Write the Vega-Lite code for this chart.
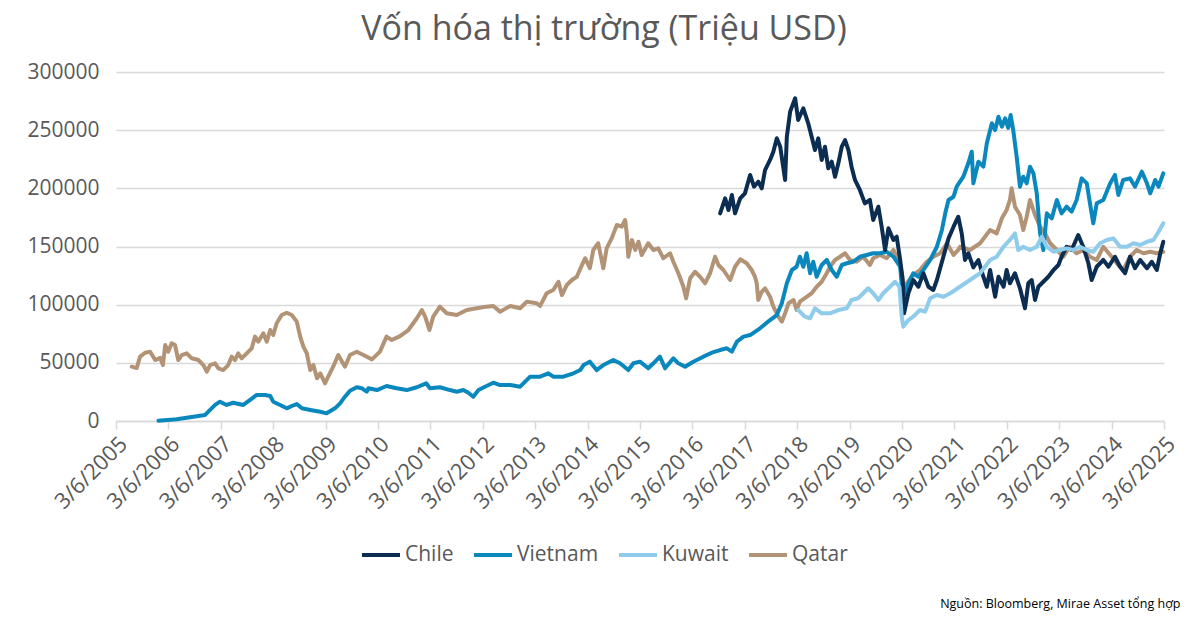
{
  "$schema": "https://vega.github.io/schema/vega-lite/v6.json",
  "width": 1048,
  "height": 349,
  "autosize": {"type": "none"},
  "padding": {"left": 116, "top": 72, "right": 36, "bottom": 199},
  "background": "white",
  "title": {
    "text": "Vốn hóa thị trường (Triệu USD)",
    "font": "Open Sans",
    "fontSize": 34,
    "fontWeight": "normal",
    "color": "#595959",
    "anchor": "middle",
    "dx": -36,
    "offset": 14
  },
  "config": {
    "view": {"stroke": null},
    "font": "Open Sans"
  },
  "data": {
    "values": [
      {"date":"2005-06-24","series":"Qatar","value":46700},
      {"date":"2005-07-28","series":"Qatar","value":45500},
      {"date":"2005-08-21","series":"Qatar","value":55300},
      {"date":"2005-09-25","series":"Qatar","value":58700},
      {"date":"2005-10-30","series":"Qatar","value":59600},
      {"date":"2005-12-04","series":"Qatar","value":52400},
      {"date":"2006-01-08","series":"Qatar","value":54200},
      {"date":"2006-01-27","series":"Qatar","value":48100},
      {"date":"2006-02-12","series":"Qatar","value":65300},
      {"date":"2006-03-05","series":"Qatar","value":59600},
      {"date":"2006-03-29","series":"Qatar","value":66800},
      {"date":"2006-04-21","series":"Qatar","value":65300},
      {"date":"2006-05-14","series":"Qatar","value":52400},
      {"date":"2006-06-07","series":"Qatar","value":56700},
      {"date":"2006-07-12","series":"Qatar","value":58200},
      {"date":"2006-08-16","series":"Qatar","value":53900},
      {"date":"2006-10-01","series":"Qatar","value":52400},
      {"date":"2006-11-05","series":"Qatar","value":48100},
      {"date":"2006-11-29","series":"Qatar","value":42400},
      {"date":"2006-12-22","series":"Qatar","value":48100},
      {"date":"2007-01-26","series":"Qatar","value":49600},
      {"date":"2007-02-18","series":"Qatar","value":45300},
      {"date":"2007-03-23","series":"Qatar","value":43800},
      {"date":"2007-04-27","series":"Qatar","value":48100},
      {"date":"2007-05-21","series":"Qatar","value":55300},
      {"date":"2007-06-13","series":"Qatar","value":52400},
      {"date":"2007-07-06","series":"Qatar","value":58200},
      {"date":"2007-07-30","series":"Qatar","value":53900},
      {"date":"2007-09-03","series":"Qatar","value":58200},
      {"date":"2007-10-08","series":"Qatar","value":62500},
      {"date":"2007-10-31","series":"Qatar","value":72500},
      {"date":"2007-11-23","series":"Qatar","value":68200},
      {"date":"2007-12-28","series":"Qatar","value":75400},
      {"date":"2008-01-21","series":"Qatar","value":68200},
      {"date":"2008-02-14","series":"Qatar","value":78200},
      {"date":"2008-03-06","series":"Qatar","value":73900},
      {"date":"2008-03-30","series":"Qatar","value":84000},
      {"date":"2008-05-04","series":"Qatar","value":91100},
      {"date":"2008-06-08","series":"Qatar","value":93100},
      {"date":"2008-07-13","series":"Qatar","value":91100},
      {"date":"2008-08-17","series":"Qatar","value":85400},
      {"date":"2008-09-10","series":"Qatar","value":72500},
      {"date":"2008-10-02","series":"Qatar","value":63900},
      {"date":"2008-10-26","series":"Qatar","value":58200},
      {"date":"2008-11-19","series":"Qatar","value":43800},
      {"date":"2008-12-11","series":"Qatar","value":48100},
      {"date":"2009-01-05","series":"Qatar","value":36700},
      {"date":"2009-01-28","series":"Qatar","value":41000},
      {"date":"2009-03-02","series":"Qatar","value":32400},
      {"date":"2009-03-24","series":"Qatar","value":38100},
      {"date":"2009-04-28","series":"Qatar","value":46700},
      {"date":"2009-06-02","series":"Qatar","value":56700},
      {"date":"2009-07-19","series":"Qatar","value":46700},
      {"date":"2009-08-23","series":"Qatar","value":56700},
      {"date":"2009-10-09","series":"Qatar","value":59600},
      {"date":"2009-11-25","series":"Qatar","value":56700},
      {"date":"2010-01-23","series":"Qatar","value":53000},
      {"date":"2010-03-20","series":"Qatar","value":59600},
      {"date":"2010-05-05","series":"Qatar","value":72500},
      {"date":"2010-06-10","series":"Qatar","value":69600},
      {"date":"2010-08-07","series":"Qatar","value":73000},
      {"date":"2010-10-04","series":"Qatar","value":78200},
      {"date":"2010-12-02","series":"Qatar","value":88300},
      {"date":"2011-01-06","series":"Qatar","value":95400},
      {"date":"2011-01-29","series":"Qatar","value":89700},
      {"date":"2011-02-28","series":"Qatar","value":78200},
      {"date":"2011-03-26","series":"Qatar","value":89700},
      {"date":"2011-05-12","series":"Qatar","value":98300},
      {"date":"2011-06-28","series":"Qatar","value":92600},
      {"date":"2011-09-06","series":"Qatar","value":91100},
      {"date":"2011-11-15","series":"Qatar","value":95400},
      {"date":"2012-01-24","series":"Qatar","value":96900},
      {"date":"2012-04-02","series":"Qatar","value":98300},
      {"date":"2012-05-18","series":"Qatar","value":98900},
      {"date":"2012-07-04","series":"Qatar","value":94000},
      {"date":"2012-09-13","series":"Qatar","value":98900},
      {"date":"2012-11-21","series":"Qatar","value":96900},
      {"date":"2013-01-07","series":"Qatar","value":102600},
      {"date":"2013-03-16","series":"Qatar","value":101200},
      {"date":"2013-04-09","series":"Qatar","value":98900},
      {"date":"2013-05-25","series":"Qatar","value":109800},
      {"date":"2013-07-10","series":"Qatar","value":112600},
      {"date":"2013-08-15","series":"Qatar","value":119700},
      {"date":"2013-09-08","series":"Qatar","value":108300},
      {"date":"2013-10-12","series":"Qatar","value":116900},
      {"date":"2013-11-17","series":"Qatar","value":121200},
      {"date":"2013-12-21","series":"Qatar","value":124000},
      {"date":"2014-01-26","series":"Qatar","value":134100},
      {"date":"2014-02-18","series":"Qatar","value":139900},
      {"date":"2014-03-22","series":"Qatar","value":131300},
      {"date":"2014-04-15","series":"Qatar","value":147000},
      {"date":"2014-05-19","series":"Qatar","value":152800},
      {"date":"2014-06-24","series":"Qatar","value":131300},
      {"date":"2014-07-17","series":"Qatar","value":148400},
      {"date":"2014-08-21","series":"Qatar","value":157000},
      {"date":"2014-09-26","series":"Qatar","value":168500},
      {"date":"2014-10-30","series":"Qatar","value":167000},
      {"date":"2014-11-23","series":"Qatar","value":172800},
      {"date":"2014-12-04","series":"Qatar","value":161300},
      {"date":"2014-12-15","series":"Qatar","value":141200},
      {"date":"2015-01-09","series":"Qatar","value":155600},
      {"date":"2015-02-01","series":"Qatar","value":147000},
      {"date":"2015-02-24","series":"Qatar","value":154100},
      {"date":"2015-03-18","series":"Qatar","value":142700},
      {"date":"2015-05-03","series":"Qatar","value":152800},
      {"date":"2015-06-08","series":"Qatar","value":147000},
      {"date":"2015-07-12","series":"Qatar","value":148400},
      {"date":"2015-08-16","series":"Qatar","value":139900},
      {"date":"2015-10-02","series":"Qatar","value":144200},
      {"date":"2015-10-25","series":"Qatar","value":136900},
      {"date":"2015-11-29","series":"Qatar","value":127000},
      {"date":"2016-01-03","series":"Qatar","value":115400},
      {"date":"2016-01-22","series":"Qatar","value":105500},
      {"date":"2016-02-19","series":"Qatar","value":122700},
      {"date":"2016-03-24","series":"Qatar","value":128300},
      {"date":"2016-04-28","series":"Qatar","value":124000},
      {"date":"2016-06-02","series":"Qatar","value":118400},
      {"date":"2016-07-07","series":"Qatar","value":127000},
      {"date":"2016-08-11","series":"Qatar","value":141200},
      {"date":"2016-09-03","series":"Qatar","value":134100},
      {"date":"2016-10-08","series":"Qatar","value":129800},
      {"date":"2016-11-24","series":"Qatar","value":121200},
      {"date":"2016-12-28","series":"Qatar","value":132600},
      {"date":"2017-02-02","series":"Qatar","value":139000},
      {"date":"2017-03-19","series":"Qatar","value":135600},
      {"date":"2017-04-23","series":"Qatar","value":129800},
      {"date":"2017-05-16","series":"Qatar","value":124000},
      {"date":"2017-05-28","series":"Qatar","value":118400},
      {"date":"2017-06-08","series":"Qatar","value":104000},
      {"date":"2017-07-02","series":"Qatar","value":111100},
      {"date":"2017-07-25","series":"Qatar","value":114100},
      {"date":"2017-08-29","series":"Qatar","value":106800},
      {"date":"2017-09-21","series":"Qatar","value":98300},
      {"date":"2017-10-26","series":"Qatar","value":89700},
      {"date":"2017-11-19","series":"Qatar","value":85400},
      {"date":"2017-12-12","series":"Qatar","value":92600},
      {"date":"2018-01-05","series":"Qatar","value":101200},
      {"date":"2018-02-09","series":"Qatar","value":104000},
      {"date":"2018-03-02","series":"Qatar","value":95400},
      {"date":"2018-03-25","series":"Qatar","value":102600},
      {"date":"2018-05-11","series":"Qatar","value":106800},
      {"date":"2018-06-15","series":"Qatar","value":109800},
      {"date":"2018-07-20","series":"Qatar","value":115400},
      {"date":"2018-08-24","series":"Qatar","value":119700},
      {"date":"2018-09-28","series":"Qatar","value":127000},
      {"date":"2018-10-21","series":"Qatar","value":132600},
      {"date":"2018-11-25","series":"Qatar","value":138400},
      {"date":"2018-12-30","series":"Qatar","value":141200},
      {"date":"2019-02-03","series":"Qatar","value":144200},
      {"date":"2019-03-09","series":"Qatar","value":138400},
      {"date":"2019-04-25","series":"Qatar","value":136900},
      {"date":"2019-06-10","series":"Qatar","value":141200},
      {"date":"2019-07-26","series":"Qatar","value":134100},
      {"date":"2019-08-18","series":"Qatar","value":139900},
      {"date":"2019-10-05","series":"Qatar","value":142700},
      {"date":"2019-11-20","series":"Qatar","value":139900},
      {"date":"2020-01-06","series":"Qatar","value":147000},
      {"date":"2020-02-10","series":"Qatar","value":138400},
      {"date":"2020-03-04","series":"Qatar","value":127000},
      {"date":"2020-03-15","series":"Qatar","value":114100},
      {"date":"2020-04-08","series":"Qatar","value":118400},
      {"date":"2020-05-23","series":"Qatar","value":125500},
      {"date":"2020-07-09","series":"Qatar","value":129800},
      {"date":"2020-08-25","series":"Qatar","value":136900},
      {"date":"2020-10-10","series":"Qatar","value":141200},
      {"date":"2020-11-27","series":"Qatar","value":144200},
      {"date":"2021-01-13","series":"Qatar","value":152800},
      {"date":"2021-02-28","series":"Qatar","value":142700},
      {"date":"2021-04-02","series":"Qatar","value":147000},
      {"date":"2021-04-14","series":"Qatar","value":149800},
      {"date":"2021-06-23","series":"Qatar","value":147000},
      {"date":"2021-09-01","series":"Qatar","value":152800},
      {"date":"2021-11-10","series":"Qatar","value":164200},
      {"date":"2021-12-26","series":"Qatar","value":161300},
      {"date":"2022-01-31","series":"Qatar","value":174200},
      {"date":"2022-03-05","series":"Qatar","value":181400},
      {"date":"2022-03-28","series":"Qatar","value":190000},
      {"date":"2022-04-09","series":"Qatar","value":200000},
      {"date":"2022-05-02","series":"Qatar","value":184200},
      {"date":"2022-06-06","series":"Qatar","value":177100},
      {"date":"2022-06-29","series":"Qatar","value":164200},
      {"date":"2022-07-23","series":"Qatar","value":175600},
      {"date":"2022-08-15","series":"Qatar","value":190000},
      {"date":"2022-09-19","series":"Qatar","value":177100},
      {"date":"2022-10-24","series":"Qatar","value":167000},
      {"date":"2022-11-28","series":"Qatar","value":161300},
      {"date":"2023-01-02","series":"Qatar","value":152800},
      {"date":"2023-02-18","series":"Qatar","value":147000},
      {"date":"2023-04-04","series":"Qatar","value":141200},
      {"date":"2023-05-20","series":"Qatar","value":149800},
      {"date":"2023-07-06","series":"Qatar","value":144200},
      {"date":"2023-08-21","series":"Qatar","value":147000},
      {"date":"2023-10-07","series":"Qatar","value":141200},
      {"date":"2023-11-23","series":"Qatar","value":138400},
      {"date":"2024-01-08","series":"Qatar","value":149800},
      {"date":"2024-02-25","series":"Qatar","value":142700},
      {"date":"2024-04-11","series":"Qatar","value":135600},
      {"date":"2024-05-26","series":"Qatar","value":129800},
      {"date":"2024-07-12","series":"Qatar","value":141200},
      {"date":"2024-08-28","series":"Qatar","value":147000},
      {"date":"2024-10-13","series":"Qatar","value":144200},
      {"date":"2024-11-30","series":"Qatar","value":145500},
      {"date":"2025-01-15","series":"Qatar","value":144200},
      {"date":"2025-03-01","series":"Qatar","value":145500},

      {"date":"2005-12-27","series":"Vietnam","value":300},
      {"date":"2006-05-03","series":"Vietnam","value":1500},
      {"date":"2006-08-04","series":"Vietnam","value":3200},
      {"date":"2006-11-17","series":"Vietnam","value":5200},
      {"date":"2006-12-22","series":"Vietnam","value":9500},
      {"date":"2007-01-26","series":"Vietnam","value":13800},
      {"date":"2007-03-01","series":"Vietnam","value":16600},
      {"date":"2007-04-16","series":"Vietnam","value":13800},
      {"date":"2007-06-01","series":"Vietnam","value":15700},
      {"date":"2007-08-10","series":"Vietnam","value":13800},
      {"date":"2007-09-27","series":"Vietnam","value":18100},
      {"date":"2007-11-12","series":"Vietnam","value":22400},
      {"date":"2008-01-09","series":"Vietnam","value":22400},
      {"date":"2008-02-14","series":"Vietnam","value":21500},
      {"date":"2008-03-06","series":"Vietnam","value":16600},
      {"date":"2008-04-23","series":"Vietnam","value":13800},
      {"date":"2008-06-08","series":"Vietnam","value":10900},
      {"date":"2008-07-13","series":"Vietnam","value":12900},
      {"date":"2008-08-17","series":"Vietnam","value":14600},
      {"date":"2008-09-22","series":"Vietnam","value":10900},
      {"date":"2008-11-19","series":"Vietnam","value":9500},
      {"date":"2009-01-28","series":"Vietnam","value":8000},
      {"date":"2009-03-13","series":"Vietnam","value":6600},
      {"date":"2009-05-10","series":"Vietnam","value":10900},
      {"date":"2009-06-15","series":"Vietnam","value":15200},
      {"date":"2009-07-19","series":"Vietnam","value":20900},
      {"date":"2009-08-23","series":"Vietnam","value":26000},
      {"date":"2009-10-09","series":"Vietnam","value":29000},
      {"date":"2009-11-14","series":"Vietnam","value":28100},
      {"date":"2009-12-18","series":"Vietnam","value":25200},
      {"date":"2009-12-29","series":"Vietnam","value":28100},
      {"date":"2010-02-27","series":"Vietnam","value":26600},
      {"date":"2010-05-05","series":"Vietnam","value":30100},
      {"date":"2010-07-14","series":"Vietnam","value":28100},
      {"date":"2010-09-23","series":"Vietnam","value":26600},
      {"date":"2010-12-02","series":"Vietnam","value":29000},
      {"date":"2011-02-05","series":"Vietnam","value":32400},
      {"date":"2011-03-03","series":"Vietnam","value":28100},
      {"date":"2011-05-12","series":"Vietnam","value":29000},
      {"date":"2011-07-21","series":"Vietnam","value":26600},
      {"date":"2011-09-06","series":"Vietnam","value":25200},
      {"date":"2011-10-22","series":"Vietnam","value":26600},
      {"date":"2011-11-26","series":"Vietnam","value":24300},
      {"date":"2011-12-30","series":"Vietnam","value":20900},
      {"date":"2012-02-05","series":"Vietnam","value":26600},
      {"date":"2012-03-21","series":"Vietnam","value":29500},
      {"date":"2012-05-18","series":"Vietnam","value":32900},
      {"date":"2012-07-04","series":"Vietnam","value":30900},
      {"date":"2012-09-13","series":"Vietnam","value":30900},
      {"date":"2012-11-21","series":"Vietnam","value":29500},
      {"date":"2012-12-26","series":"Vietnam","value":33800},
      {"date":"2013-01-30","series":"Vietnam","value":38100},
      {"date":"2013-04-09","series":"Vietnam","value":38100},
      {"date":"2013-06-06","series":"Vietnam","value":41000},
      {"date":"2013-07-10","series":"Vietnam","value":38100},
      {"date":"2013-09-19","series":"Vietnam","value":38100},
      {"date":"2013-11-28","series":"Vietnam","value":41000},
      {"date":"2014-01-14","series":"Vietnam","value":43800},
      {"date":"2014-02-06","series":"Vietnam","value":48100},
      {"date":"2014-03-22","series":"Vietnam","value":51000},
      {"date":"2014-05-08","series":"Vietnam","value":43800},
      {"date":"2014-06-24","series":"Vietnam","value":48100},
      {"date":"2014-09-02","series":"Vietnam","value":52400},
      {"date":"2014-10-18","series":"Vietnam","value":49600},
      {"date":"2014-12-15","series":"Vietnam","value":43800},
      {"date":"2015-01-20","series":"Vietnam","value":49600},
      {"date":"2015-03-06","series":"Vietnam","value":51000},
      {"date":"2015-05-03","series":"Vietnam","value":45300},
      {"date":"2015-06-08","series":"Vietnam","value":49600},
      {"date":"2015-07-23","series":"Vietnam","value":55300},
      {"date":"2015-08-28","series":"Vietnam","value":45300},
      {"date":"2015-10-25","series":"Vietnam","value":53900},
      {"date":"2015-11-29","series":"Vietnam","value":49600},
      {"date":"2016-01-15","series":"Vietnam","value":46700},
      {"date":"2016-03-12","series":"Vietnam","value":51000},
      {"date":"2016-05-21","series":"Vietnam","value":55300},
      {"date":"2016-07-19","series":"Vietnam","value":58700},
      {"date":"2016-09-15","series":"Vietnam","value":61000},
      {"date":"2016-11-01","series":"Vietnam","value":62500},
      {"date":"2016-12-06","series":"Vietnam","value":59600},
      {"date":"2017-01-10","series":"Vietnam","value":68200},
      {"date":"2017-02-25","series":"Vietnam","value":72500},
      {"date":"2017-04-12","series":"Vietnam","value":73900},
      {"date":"2017-06-20","series":"Vietnam","value":79700},
      {"date":"2017-08-29","series":"Vietnam","value":86800},
      {"date":"2017-10-15","series":"Vietnam","value":91100},
      {"date":"2017-11-19","series":"Vietnam","value":101200},
      {"date":"2017-12-24","series":"Vietnam","value":118400},
      {"date":"2018-01-28","series":"Vietnam","value":129800},
      {"date":"2018-03-02","series":"Vietnam","value":132600},
      {"date":"2018-03-25","series":"Vietnam","value":141200},
      {"date":"2018-04-18","series":"Vietnam","value":132600},
      {"date":"2018-05-11","series":"Vietnam","value":144200},
      {"date":"2018-06-04","series":"Vietnam","value":127000},
      {"date":"2018-06-26","series":"Vietnam","value":136900},
      {"date":"2018-07-20","series":"Vietnam","value":124000},
      {"date":"2018-08-24","series":"Vietnam","value":134100},
      {"date":"2018-09-28","series":"Vietnam","value":138400},
      {"date":"2018-11-02","series":"Vietnam","value":129800},
      {"date":"2018-12-07","series":"Vietnam","value":124000},
      {"date":"2019-01-11","series":"Vietnam","value":134100},
      {"date":"2019-02-15","series":"Vietnam","value":135600},
      {"date":"2019-04-01","series":"Vietnam","value":136900},
      {"date":"2019-05-17","series":"Vietnam","value":141200},
      {"date":"2019-07-03","series":"Vietnam","value":142700},
      {"date":"2019-08-18","series":"Vietnam","value":144200},
      {"date":"2019-10-05","series":"Vietnam","value":144200},
      {"date":"2019-11-20","series":"Vietnam","value":145500},
      {"date":"2020-01-06","series":"Vietnam","value":141200},
      {"date":"2020-02-22","series":"Vietnam","value":132600},
      {"date":"2020-03-11","series":"Vietnam","value":106800},
      {"date":"2020-03-27","series":"Vietnam","value":109800},
      {"date":"2020-04-19","series":"Vietnam","value":118400},
      {"date":"2020-05-23","series":"Vietnam","value":127000},
      {"date":"2020-06-28","series":"Vietnam","value":124000},
      {"date":"2020-08-02","series":"Vietnam","value":129800},
      {"date":"2020-09-18","series":"Vietnam","value":138400},
      {"date":"2020-11-04","series":"Vietnam","value":149800},
      {"date":"2020-12-09","series":"Vietnam","value":164200},
      {"date":"2021-01-01","series":"Vietnam","value":178500},
      {"date":"2021-01-24","series":"Vietnam","value":190000},
      {"date":"2021-02-28","series":"Vietnam","value":192800},
      {"date":"2021-03-22","series":"Vietnam","value":201400},
      {"date":"2021-05-07","series":"Vietnam","value":210000},
      {"date":"2021-06-11","series":"Vietnam","value":221500},
      {"date":"2021-07-05","series":"Vietnam","value":231500},
      {"date":"2021-07-16","series":"Vietnam","value":204300},
      {"date":"2021-08-20","series":"Vietnam","value":222900},
      {"date":"2021-09-24","series":"Vietnam","value":218600},
      {"date":"2021-10-18","series":"Vietnam","value":238700},
      {"date":"2021-11-22","series":"Vietnam","value":255900},
      {"date":"2021-12-15","series":"Vietnam","value":250100},
      {"date":"2022-01-07","series":"Vietnam","value":261600},
      {"date":"2022-01-31","series":"Vietnam","value":253000},
      {"date":"2022-02-23","series":"Vietnam","value":260200},
      {"date":"2022-03-16","series":"Vietnam","value":252000},
      {"date":"2022-04-02","series":"Vietnam","value":263000},
      {"date":"2022-04-20","series":"Vietnam","value":250100},
      {"date":"2022-05-14","series":"Vietnam","value":227200},
      {"date":"2022-06-06","series":"Vietnam","value":201400},
      {"date":"2022-06-29","series":"Vietnam","value":210000},
      {"date":"2022-07-23","series":"Vietnam","value":204300},
      {"date":"2022-08-15","series":"Vietnam","value":218600},
      {"date":"2022-09-08","series":"Vietnam","value":212900},
      {"date":"2022-10-01","series":"Vietnam","value":195700},
      {"date":"2022-10-24","series":"Vietnam","value":161300},
      {"date":"2022-11-16","series":"Vietnam","value":147000},
      {"date":"2022-12-10","series":"Vietnam","value":178500},
      {"date":"2023-01-14","series":"Vietnam","value":174200},
      {"date":"2023-02-18","series":"Vietnam","value":190000},
      {"date":"2023-03-23","series":"Vietnam","value":178500},
      {"date":"2023-04-27","series":"Vietnam","value":184200},
      {"date":"2023-06-01","series":"Vietnam","value":180000},
      {"date":"2023-07-06","series":"Vietnam","value":190000},
      {"date":"2023-08-10","series":"Vietnam","value":208600},
      {"date":"2023-09-15","series":"Vietnam","value":204300},
      {"date":"2023-10-07","series":"Vietnam","value":187100},
      {"date":"2023-10-30","series":"Vietnam","value":169900},
      {"date":"2023-11-23","series":"Vietnam","value":187100},
      {"date":"2024-01-08","series":"Vietnam","value":190000},
      {"date":"2024-02-25","series":"Vietnam","value":204300},
      {"date":"2024-03-29","series":"Vietnam","value":211500},
      {"date":"2024-04-22","series":"Vietnam","value":194300},
      {"date":"2024-05-26","series":"Vietnam","value":207200},
      {"date":"2024-07-12","series":"Vietnam","value":208600},
      {"date":"2024-08-16","series":"Vietnam","value":201400},
      {"date":"2024-10-03","series":"Vietnam","value":214300},
      {"date":"2024-11-07","series":"Vietnam","value":204300},
      {"date":"2024-11-30","series":"Vietnam","value":195700},
      {"date":"2025-01-04","series":"Vietnam","value":207200},
      {"date":"2025-01-27","series":"Vietnam","value":201400},
      {"date":"2025-03-01","series":"Vietnam","value":212900},

      {"date":"2016-09-15","series":"Chile","value":178500},
      {"date":"2016-10-20","series":"Chile","value":191400},
      {"date":"2016-11-12","series":"Chile","value":181400},
      {"date":"2016-12-06","series":"Chile","value":194300},
      {"date":"2016-12-28","series":"Chile","value":178500},
      {"date":"2017-02-02","series":"Chile","value":191400},
      {"date":"2017-03-07","series":"Chile","value":195700},
      {"date":"2017-04-12","series":"Chile","value":211500},
      {"date":"2017-05-09","series":"Chile","value":201400},
      {"date":"2017-06-08","series":"Chile","value":205700},
      {"date":"2017-07-02","series":"Chile","value":200000},
      {"date":"2017-07-25","series":"Chile","value":215700},
      {"date":"2017-08-29","series":"Chile","value":224400},
      {"date":"2017-09-21","series":"Chile","value":231500},
      {"date":"2017-10-15","series":"Chile","value":243000},
      {"date":"2017-11-08","series":"Chile","value":235800},
      {"date":"2017-12-12","series":"Chile","value":207200},
      {"date":"2017-12-24","series":"Chile","value":244400},
      {"date":"2018-01-16","series":"Chile","value":265900},
      {"date":"2018-02-20","series":"Chile","value":277400},
      {"date":"2018-03-13","series":"Chile","value":258700},
      {"date":"2018-04-18","series":"Chile","value":268800},
      {"date":"2018-05-22","series":"Chile","value":255900},
      {"date":"2018-06-15","series":"Chile","value":244400},
      {"date":"2018-07-08","series":"Chile","value":233000},
      {"date":"2018-07-31","series":"Chile","value":243000},
      {"date":"2018-08-24","series":"Chile","value":224400},
      {"date":"2018-09-16","series":"Chile","value":235800},
      {"date":"2018-10-09","series":"Chile","value":217200},
      {"date":"2018-11-02","series":"Chile","value":222900},
      {"date":"2018-11-25","series":"Chile","value":210000},
      {"date":"2018-12-18","series":"Chile","value":221500},
      {"date":"2019-01-11","series":"Chile","value":235800},
      {"date":"2019-02-03","series":"Chile","value":241500},
      {"date":"2019-02-26","series":"Chile","value":233000},
      {"date":"2019-03-20","series":"Chile","value":218600},
      {"date":"2019-04-13","series":"Chile","value":207200},
      {"date":"2019-05-17","series":"Chile","value":198600},
      {"date":"2019-06-21","series":"Chile","value":187100},
      {"date":"2019-07-26","series":"Chile","value":190000},
      {"date":"2019-08-18","series":"Chile","value":172800},
      {"date":"2019-09-23","series":"Chile","value":184200},
      {"date":"2019-10-16","series":"Chile","value":167000},
      {"date":"2019-11-09","series":"Chile","value":147000},
      {"date":"2019-12-02","series":"Chile","value":165600},
      {"date":"2020-01-06","series":"Chile","value":155600},
      {"date":"2020-01-29","series":"Chile","value":158400},
      {"date":"2020-02-22","series":"Chile","value":138400},
      {"date":"2020-03-11","series":"Chile","value":121200},
      {"date":"2020-03-20","series":"Chile","value":92600},
      {"date":"2020-04-19","series":"Chile","value":109800},
      {"date":"2020-05-23","series":"Chile","value":121200},
      {"date":"2020-06-28","series":"Chile","value":115400},
      {"date":"2020-08-02","series":"Chile","value":127000},
      {"date":"2020-09-06","series":"Chile","value":115400},
      {"date":"2020-10-10","series":"Chile","value":112600},
      {"date":"2020-11-04","series":"Chile","value":121200},
      {"date":"2020-12-19","series":"Chile","value":141200},
      {"date":"2021-01-24","series":"Chile","value":157000},
      {"date":"2021-02-28","series":"Chile","value":167000},
      {"date":"2021-04-02","series":"Chile","value":175600},
      {"date":"2021-04-26","series":"Chile","value":161300},
      {"date":"2021-05-19","series":"Chile","value":138400},
      {"date":"2021-06-11","series":"Chile","value":144200},
      {"date":"2021-07-16","series":"Chile","value":132000},
      {"date":"2021-08-20","series":"Chile","value":138400},
      {"date":"2021-09-24","series":"Chile","value":124000},
      {"date":"2021-10-18","series":"Chile","value":115400},
      {"date":"2021-11-10","series":"Chile","value":129800},
      {"date":"2021-12-15","series":"Chile","value":106800},
      {"date":"2022-01-07","series":"Chile","value":124000},
      {"date":"2022-02-12","series":"Chile","value":115400},
      {"date":"2022-03-05","series":"Chile","value":129800},
      {"date":"2022-03-28","series":"Chile","value":118400},
      {"date":"2022-05-02","series":"Chile","value":127000},
      {"date":"2022-06-06","series":"Chile","value":114100},
      {"date":"2022-07-11","series":"Chile","value":96900},
      {"date":"2022-08-03","series":"Chile","value":118400},
      {"date":"2022-08-27","series":"Chile","value":121200},
      {"date":"2022-09-19","series":"Chile","value":104000},
      {"date":"2022-10-12","series":"Chile","value":115400},
      {"date":"2022-11-16","series":"Chile","value":119700},
      {"date":"2022-12-21","series":"Chile","value":124000},
      {"date":"2023-01-26","series":"Chile","value":129800},
      {"date":"2023-03-01","series":"Chile","value":134100},
      {"date":"2023-03-23","series":"Chile","value":141200},
      {"date":"2023-04-27","series":"Chile","value":149800},
      {"date":"2023-06-01","series":"Chile","value":147000},
      {"date":"2023-07-17","series":"Chile","value":159900},
      {"date":"2023-08-21","series":"Chile","value":149800},
      {"date":"2023-09-26","series":"Chile","value":135600},
      {"date":"2023-10-19","series":"Chile","value":121200},
      {"date":"2023-11-23","series":"Chile","value":132600},
      {"date":"2024-01-08","series":"Chile","value":138400},
      {"date":"2024-02-13","series":"Chile","value":132600},
      {"date":"2024-03-29","series":"Chile","value":141200},
      {"date":"2024-05-04","series":"Chile","value":132600},
      {"date":"2024-06-08","series":"Chile","value":127000},
      {"date":"2024-07-12","series":"Chile","value":141200},
      {"date":"2024-08-16","series":"Chile","value":131300},
      {"date":"2024-09-21","series":"Chile","value":138400},
      {"date":"2024-11-07","series":"Chile","value":131300},
      {"date":"2024-12-11","series":"Chile","value":136900},
      {"date":"2025-01-15","series":"Chile","value":129800},
      {"date":"2025-02-08","series":"Chile","value":144200},
      {"date":"2025-03-01","series":"Chile","value":154100},

      {"date":"2018-03-13","series":"Kuwait","value":95400},
      {"date":"2018-04-29","series":"Kuwait","value":89700},
      {"date":"2018-06-04","series":"Kuwait","value":88300},
      {"date":"2018-07-08","series":"Kuwait","value":96900},
      {"date":"2018-08-24","series":"Kuwait","value":92600},
      {"date":"2018-10-21","series":"Kuwait","value":92600},
      {"date":"2018-12-18","series":"Kuwait","value":95400},
      {"date":"2019-02-15","series":"Kuwait","value":96900},
      {"date":"2019-03-20","series":"Kuwait","value":104000},
      {"date":"2019-05-05","series":"Kuwait","value":105500},
      {"date":"2019-06-10","series":"Kuwait","value":109800},
      {"date":"2019-07-14","series":"Kuwait","value":114100},
      {"date":"2019-08-18","series":"Kuwait","value":109800},
      {"date":"2019-09-23","series":"Kuwait","value":104000},
      {"date":"2019-10-27","series":"Kuwait","value":109800},
      {"date":"2019-12-13","series":"Kuwait","value":115400},
      {"date":"2020-01-17","series":"Kuwait","value":119700},
      {"date":"2020-02-17","series":"Kuwait","value":115400},
      {"date":"2020-03-04","series":"Kuwait","value":89700},
      {"date":"2020-03-15","series":"Kuwait","value":81100},
      {"date":"2020-04-19","series":"Kuwait","value":86800},
      {"date":"2020-05-23","series":"Kuwait","value":89700},
      {"date":"2020-07-09","series":"Kuwait","value":95400},
      {"date":"2020-08-14","series":"Kuwait","value":94000},
      {"date":"2020-09-18","series":"Kuwait","value":105500},
      {"date":"2020-11-04","series":"Kuwait","value":108300},
      {"date":"2020-12-19","series":"Kuwait","value":106800},
      {"date":"2021-02-05","series":"Kuwait","value":109800},
      {"date":"2021-04-14","series":"Kuwait","value":115400},
      {"date":"2021-06-23","series":"Kuwait","value":121200},
      {"date":"2021-09-01","series":"Kuwait","value":127000},
      {"date":"2021-11-10","series":"Kuwait","value":138400},
      {"date":"2021-12-26","series":"Kuwait","value":141200},
      {"date":"2022-02-12","series":"Kuwait","value":149800},
      {"date":"2022-03-28","series":"Kuwait","value":155600},
      {"date":"2022-05-02","series":"Kuwait","value":161300},
      {"date":"2022-05-25","series":"Kuwait","value":147000},
      {"date":"2022-06-29","series":"Kuwait","value":149800},
      {"date":"2022-08-15","series":"Kuwait","value":147000},
      {"date":"2022-10-01","series":"Kuwait","value":149800},
      {"date":"2022-11-05","series":"Kuwait","value":158400},
      {"date":"2022-12-10","series":"Kuwait","value":149800},
      {"date":"2023-01-26","series":"Kuwait","value":145500},
      {"date":"2023-03-11","series":"Kuwait","value":147000},
      {"date":"2023-04-27","series":"Kuwait","value":148400},
      {"date":"2023-06-12","series":"Kuwait","value":147000},
      {"date":"2023-07-29","series":"Kuwait","value":149800},
      {"date":"2023-09-15","series":"Kuwait","value":147000},
      {"date":"2023-10-30","series":"Kuwait","value":145500},
      {"date":"2023-12-16","series":"Kuwait","value":152800},
      {"date":"2024-02-01","series":"Kuwait","value":155600},
      {"date":"2024-03-18","series":"Kuwait","value":157000},
      {"date":"2024-05-04","series":"Kuwait","value":149800},
      {"date":"2024-06-20","series":"Kuwait","value":149800},
      {"date":"2024-08-05","series":"Kuwait","value":152800},
      {"date":"2024-09-21","series":"Kuwait","value":151300},
      {"date":"2024-11-07","series":"Kuwait","value":154100},
      {"date":"2024-12-22","series":"Kuwait","value":155600},
      {"date":"2025-01-27","series":"Kuwait","value":162700},
      {"date":"2025-03-01","series":"Kuwait","value":169900}
    ]
  },
  "mark": {"type": "line", "strokeWidth": 4, "strokeJoin": "round", "strokeCap": "round"},
  "encoding": {
    "x": {
      "field": "date",
      "type": "temporal",
      "scale": {
        "type": "utc",
        "domain": [
          {"year": 2005, "month": 3, "date": 6, "utc": true},
          {"year": 2025, "month": 3, "date": 6, "utc": true}
        ]
      },
      "axis": {
        "title": "Nguồn: Bloomberg, Mirae Asset tổng hợp",
        "titleFont": "Open Sans",
        "titleFontSize": 12.5,
        "titleFontWeight": "normal",
        "titleColor": "#000000",
        "titleAnchor": "end",
        "titleAlign": "right",
        "titleBaseline": "alphabetic",
        "titleX": 1064,
        "titleY": 186,
        "values": [
          {"year": 2005, "month": 3, "date": 6, "utc": true},
          {"year": 2006, "month": 3, "date": 6, "utc": true},
          {"year": 2007, "month": 3, "date": 6, "utc": true},
          {"year": 2008, "month": 3, "date": 6, "utc": true},
          {"year": 2009, "month": 3, "date": 6, "utc": true},
          {"year": 2010, "month": 3, "date": 6, "utc": true},
          {"year": 2011, "month": 3, "date": 6, "utc": true},
          {"year": 2012, "month": 3, "date": 6, "utc": true},
          {"year": 2013, "month": 3, "date": 6, "utc": true},
          {"year": 2014, "month": 3, "date": 6, "utc": true},
          {"year": 2015, "month": 3, "date": 6, "utc": true},
          {"year": 2016, "month": 3, "date": 6, "utc": true},
          {"year": 2017, "month": 3, "date": 6, "utc": true},
          {"year": 2018, "month": 3, "date": 6, "utc": true},
          {"year": 2019, "month": 3, "date": 6, "utc": true},
          {"year": 2020, "month": 3, "date": 6, "utc": true},
          {"year": 2021, "month": 3, "date": 6, "utc": true},
          {"year": 2022, "month": 3, "date": 6, "utc": true},
          {"year": 2023, "month": 3, "date": 6, "utc": true},
          {"year": 2024, "month": 3, "date": 6, "utc": true},
          {"year": 2025, "month": 3, "date": 6, "utc": true}
        ],
        "labelExpr": "(utcmonth(datum.value) + 1) + '/' + utcdate(datum.value) + '/' + utcyear(datum.value)",
        "labelAngle": -45,
        "labelFont": "Open Sans",
        "labelFontSize": 22,
        "labelColor": "#595959",
        "labelPadding": 4,
        "labelOverlap": false,
        "labelFlush": false,
        "grid": false,
        "domainColor": "#D9D9D9",
        "domainWidth": 1.5,
        "tickColor": "#D9D9D9",
        "tickWidth": 1.5,
        "tickSize": 8
      }
    },
    "y": {
      "field": "value",
      "type": "quantitative",
      "scale": {"domain": [0, 300000], "nice": false},
      "axis": {
        "title": null,
        "values": [0, 50000, 100000, 150000, 200000, 250000, 300000],
        "format": "d",
        "labelFont": "Open Sans",
        "labelFontSize": 21,
        "labelColor": "#595959",
        "labelPadding": 17,
        "domain": false,
        "ticks": false,
        "grid": true,
        "gridColor": "#D9D9D9",
        "gridWidth": 1.5
      }
    },
    "color": {
      "field": "series",
      "type": "nominal",
      "scale": {
        "domain": ["Chile", "Vietnam", "Kuwait", "Qatar"],
        "range": ["#0B2D52", "#0A88BE", "#8FCBEA", "#B39376"]
      },
      "legend": {
        "title": null,
        "orient": "none",
        "direction": "horizontal",
        "legendX": 244,
        "legendY": 462,
        "symbolType": "stroke",
        "symbolSize": 1444,
        "symbolStrokeWidth": 4,
        "labelFont": "Open Sans",
        "labelFontSize": 21,
        "labelColor": "#595959",
        "labelOffset": 3,
        "columnPadding": 12
      }
    }
  }
}
